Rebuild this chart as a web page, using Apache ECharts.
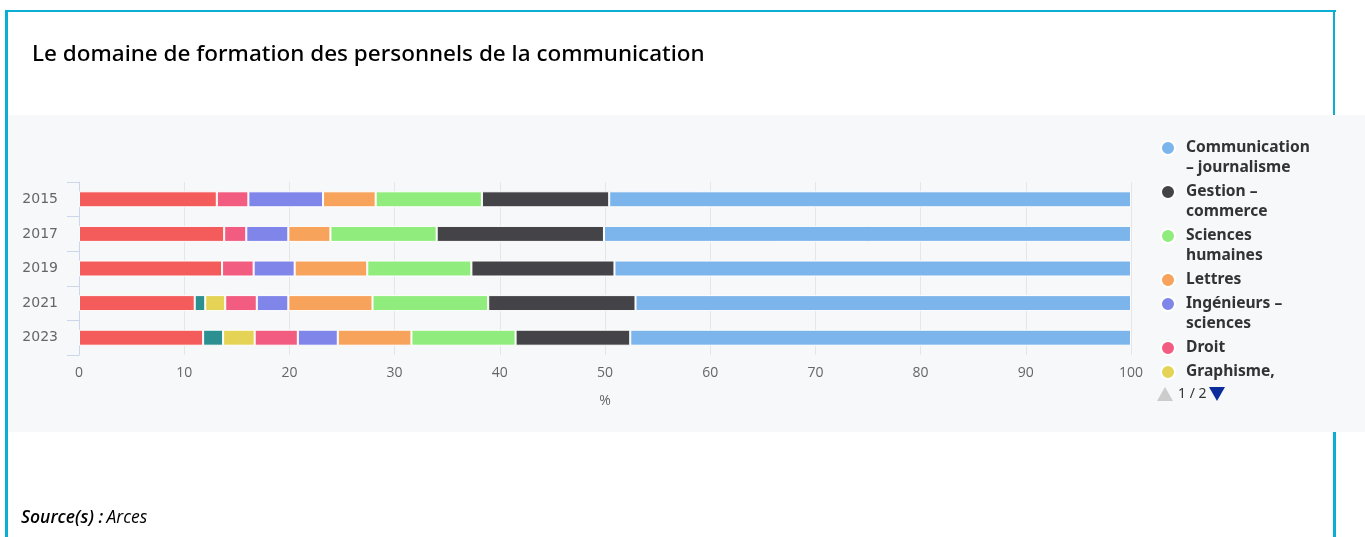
<!DOCTYPE html>
<html>
<head>
<meta charset="utf-8">
<script src="https://cdn.jsdelivr.net/npm/echarts@6/dist/echarts.min.js"></script>
<style>
html,body{margin:0;padding:0;background:#fff;}
#chart{width:1365px;height:537px;}
</style>
</head>
<body>
<div id="chart"></div>
<script>
const years = ['2015', '2017', '2019', '2021', '2023'];
const seriesNames = ['Communication – journalisme', 'Gestion – commerce', 'Sciences humaines', 'Lettres', 'Ingénieurs – sciences', 'Droit', 'Graphisme, design', 'Arts', 'Autres'];
const legendLabels = ['Communication\n– journalisme', 'Gestion –\ncommerce', 'Sciences\nhumaines', 'Lettres', 'Ingénieurs –\nsciences', 'Droit', 'Graphisme,\ndesign', 'Arts', 'Autres'];
const colors = ['#7cb5ec', '#434348', '#90ed7d', '#f7a35c', '#8085e9', '#f15c80', '#e4d354', '#2b908f', '#f45b5b'];
const communication = [49.6, 50.1, 49.1, 47.1, 47.6];
const gestion = [12.1, 15.9, 13.6, 14.0, 10.9];
const sciencesHumaines = [10.1, 10.1, 9.9, 11.0, 9.9];
const lettres = [5.0, 4.0, 6.9, 8.0, 7.0];
const ingenieurs = [7.1, 4.0, 3.9, 3.0, 3.8];
const droit = [3.0, 2.1, 3.0, 3.0, 4.1];
const graphisme = [null, null, null, 1.9, 3.0];
const arts = [null, null, null, 1.0, 1.9];
const autres = [13.1, 13.8, 13.6, 11.0, 11.8];

const values = [communication, gestion, sciencesHumaines, lettres, ingenieurs, droit, graphisme, arts, autres];

const series = [];
for (let i = seriesNames.length - 1; i >= 0; i--) {
  series.push({
    name: seriesNames[i],
    type: 'bar',
    stack: 'total',
    barWidth: 16,
    data: values[i],
    itemStyle: { color: colors[i], borderColor: '#ffffff', borderWidth: 1 }
  });
}

const labelMap = {};
seriesNames.forEach((n, i) => { labelMap[n] = legendLabels[i]; });

// circle icon drawn at the first text line for two-line legend entries
const iconTop = 'path://M0,7 A7,7 0 1,0 14,7 A7,7 0 1,0 0,7 Z M7,34';
const legendData = seriesNames.map((n, i) => ({
  name: n,
  icon: legendLabels[i].indexOf('\n') >= 0 ? iconTop : 'circle'
}));

const borderColor = '#0aaed5';
const chart = echarts.init(document.getElementById('chart'), null, { renderer: 'canvas' });
chart.setOption({
  animation: false,
  backgroundColor: '#ffffff',
  color: colors,
  title: {
    text: 'Le domaine de formation des personnels de la communication',
    left: 27,
    top: 38,
    textStyle: { fontFamily: 'Noto Sans', fontSize: 22.5, fontWeight: 500, color: '#000000' }
  },
  graphic: [
    { type: 'rect', z: -10, silent: true, shape: { x: 8, y: 115, width: 1357, height: 317 }, style: { fill: '#f7f8fa' } },
    { type: 'rect', z: 100, silent: true, shape: { x: 5, y: 10, width: 3, height: 527 }, style: { fill: borderColor } },
    { type: 'rect', z: 100, silent: true, shape: { x: 6, y: 10, width: 1330, height: 2 }, style: { fill: borderColor } },
    { type: 'rect', z: 100, silent: true, shape: { x: 1333, y: 10, width: 2, height: 105 }, style: { fill: borderColor } },
    { type: 'rect', z: 100, silent: true, shape: { x: 1333, y: 432, width: 3, height: 105 }, style: { fill: borderColor } },
    { type: 'polygon', z: 100, silent: true, shape: { points: [[1157, 401], [1173, 401], [1165, 387]] }, style: { fill: '#cccccc' } },
    { type: 'polygon', z: 100, silent: true, shape: { points: [[1209, 387], [1225, 387], [1217, 401]] }, style: { fill: '#0b2d9c' } },
    {
      type: 'text', z: 100, silent: true, left: 1178, top: 387,
      style: { text: '1 / 2', fontFamily: 'Noto Sans', fontSize: 14, fill: '#333333' }
    },
    {
      type: 'text', left: 21, top: 509, silent: true,
      style: {
        text: '{b|Source(s) :} {r|Arces}',
        rich: {
          b: { fontFamily: 'Open Sans', fontStyle: 'italic', fontWeight: 600, fontSize: 17.5, fill: '#000' },
          r: { fontFamily: 'Open Sans', fontStyle: 'italic', fontWeight: 400, fontSize: 17.5, fill: '#000' }
        }
      }
    }
  ],
  grid: { left: 79, right: 234, top: 182, bottom: 182, containLabel: false },
  legend: {
    type: 'scroll',
    orient: 'vertical',
    left: 1160,
    top: 138,
    height: 262,
    padding: 0,
    itemWidth: 14,
    itemHeight: 34,
    itemGap: 4,
    symbolKeepAspect: true,
    data: legendData,
    formatter: function (name) { return labelMap[name]; },
    textStyle: { fontFamily: 'Noto Sans', fontSize: 15.6, fontWeight: 'bold', color: '#333333', lineHeight: 20, padding: [0, 0, 0, 6] },
    pageButtonItemGap: 4,
    pageButtonGap: 6,
    pageIconSize: 14,
    pageIconColor: 'rgba(0,0,0,0)',
    pageIconInactiveColor: 'rgba(0,0,0,0)',
    pageFormatter: '{current}/{total}',
    pageTextStyle: { fontFamily: 'Noto Sans', fontSize: 14, color: 'rgba(0,0,0,0)' }
  },
  xAxis: {
    type: 'value',
    min: 0,
    max: 100,
    interval: 10,
    name: '%',
    nameLocation: 'middle',
    nameGap: 39,
    nameTextStyle: { fontFamily: 'Open Sans', fontSize: 14, color: '#666666' },
    axisLine: { show: false },
    axisTick: { show: false },
    axisLabel: { fontFamily: 'Open Sans', fontSize: 14, color: '#666666', margin: 11 },
    splitLine: { show: true, lineStyle: { color: '#e6e6e6', width: 1 } }
  },
  yAxis: {
    type: 'category',
    inverse: true,
    data: years,
    axisLine: { show: true, lineStyle: { color: '#ccd6eb' } },
    axisTick: { show: true, length: 12, lineStyle: { color: '#ccd6eb' } },
    axisLabel: { fontFamily: 'DejaVu Sans', fontSize: 14, color: '#666666', margin: 21 },
    splitLine: { show: false }
  },
  series: series
});
</script>
</body>
</html>
